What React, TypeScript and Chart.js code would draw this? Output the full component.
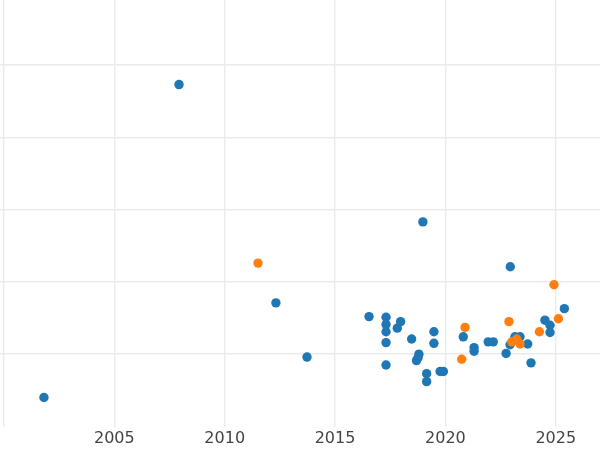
import React, { useEffect, useRef } from "react";
import { Chart, registerables } from "chart.js";

Chart.register(...registerables);

const blueYears = [
  2001.81, 2007.93, 2012.32, 2013.73, 2016.54, 2017.31, 2017.31, 2017.31, 2017.31, 2017.31,
  2017.82, 2017.97, 2018.47, 2018.8, 2018.76, 2018.69, 2019.15, 2019.15, 2019.48, 2019.48,
  2019.76, 2019.91, 2018.98, 2020.81, 2021.3, 2021.3, 2021.94, 2022.17, 2022.94, 2022.75,
  2022.93, 2023.15, 2023.38, 2023.73, 2023.88, 2024.51, 2024.74, 2024.74, 2025.39,
];
const blueValues = [
  -0.6, 3.73, 0.71, -0.04, 0.52, 0.51, 0.41, 0.31, 0.16, -0.15,
  0.36, 0.45, 0.21, 0.0, -0.05, -0.09, -0.27, -0.38, 0.31, 0.15,
  -0.24, -0.24, 1.83, 0.24, 0.09, 0.04, 0.17, 0.17, 1.21, 0.01,
  0.13, 0.24, 0.24, 0.14, -0.12, 0.47, 0.4, 0.3, 0.63,
];
const orangeYears = [2011.51, 2020.89, 2020.74, 2022.88, 2023.01, 2023.23, 2023.38, 2024.26, 2024.92, 2025.12];
const orangeValues = [1.26, 0.37, -0.07, 0.45, 0.17, 0.21, 0.14, 0.31, 0.96, 0.49];

const xTicks = [2000, 2005, 2010, 2015, 2020, 2025];
const yTicks = [0, 1, 2, 3, 4];

export default function App() {
  const ref = useRef<HTMLCanvasElement | null>(null);
  useEffect(() => {
    document.body.style.margin = "0";
    if (!ref.current) return;
    const toPts = (xs: number[], ys: number[]) => xs.map((x, i) => ({ x, y: ys[i] }));
    const chart = new Chart(ref.current, {
      type: "scatter",
      data: {
        datasets: [
          {
            data: toPts(orangeYears, orangeValues),
            backgroundColor: "#ff7f0e",
            borderWidth: 0,
            pointRadius: 4.7,
          },
          {
            data: toPts(blueYears, blueValues),
            backgroundColor: "#1f77b4",
            borderWidth: 0,
            pointRadius: 4.7,
          },
        ],
      },
      options: {
        animation: false,
        responsive: false,
        layout: { padding: 0, autoPadding: false },
        plugins: { legend: { display: false }, tooltip: { enabled: false } },
        scales: {
          x: {
            type: "linear",
            min: 1999.819,
            max: 2027.005,
            afterBuildTicks: (s: any) => {
              s.ticks = xTicks.map((v) => ({ value: v }));
            },
            ticks: {
              callback: (v: any) => (v === 2000 ? "" : String(v)),
              font: { family: "DejaVu Sans", size: 16 },
              color: "#444444",
              padding: 2,
              maxRotation: 0,
              autoSkip: false,
            },
            grid: { color: "#ebebeb", lineWidth: 1.4, drawTicks: false },
            border: { display: false },
          },
          y: {
            type: "linear",
            min: -1.005,
            max: 4.9,
            afterBuildTicks: (s: any) => {
              s.ticks = yTicks.map((v) => ({ value: v }));
            },
            ticks: { display: false },
            grid: { color: "#ebebeb", lineWidth: 1.4, drawTicks: false },
            border: { display: false },
          },
        },
      },
    });
    return () => chart.destroy();
  }, []);
  return <canvas ref={ref} width={600} height={450} style={{ display: "block" }} />;
}
